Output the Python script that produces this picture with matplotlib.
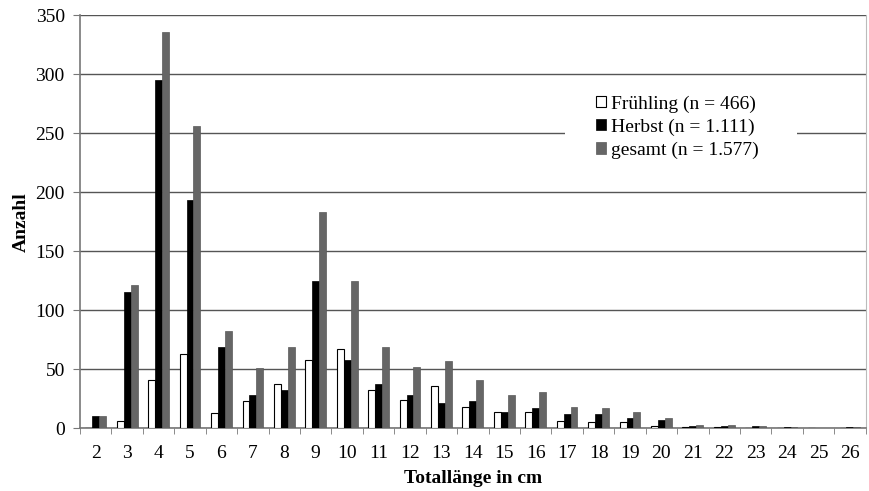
import numpy as np
import matplotlib.pyplot as plt
from matplotlib.patches import Rectangle

# Totallänge-Klassen (cm) und Anzahl je Saison
laenge = list(range(2, 27))
fruehling = [0, 6, 41, 63, 13, 23, 37, 58, 67, 32, 24, 36, 18, 14, 14, 6, 5, 5, 2, 1, 1, 0, 0, 0, 0]
herbst = [10, 115, 295, 193, 69, 28, 32, 125, 58, 37, 28, 21, 23, 14, 17, 12, 12, 9, 7, 2, 2, 2, 1, 0, 1]
gesamt = [10, 121, 336, 256, 82, 51, 69, 183, 125, 69, 52, 57, 41, 28, 31, 18, 17, 14, 9, 3, 3, 2, 1, 0, 1]

labels = ["Frühling (n = 466)", "Herbst (n = 1.111)", "gesamt (n = 1.577)"]

plt.rcParams["font.family"] = ["Liberation Serif", "DejaVu Serif"]

fig = plt.figure(figsize=(8.7, 4.91), dpi=100, facecolor="white")
ax = fig.add_axes([0.092, 0.128, 0.903, 0.841])

x = np.arange(len(laenge))
w = 0.22
ax.bar(x - w, fruehling, w, color="white", edgecolor="black", linewidth=0.8,
       label=labels[0], zorder=3)
ax.bar(x, herbst, w, color="black", edgecolor="black", linewidth=0.5,
       label=labels[1], zorder=3)
ax.bar(x + w, gesamt, w, color="#666666", edgecolor="#5a5a5a", linewidth=0.5,
       label=labels[2], zorder=3)

ax.set_xlim(-0.5, len(laenge) - 0.5)
ax.set_ylim(0, 350)
ax.set_yticks(range(0, 351, 50))
ax.yaxis.grid(True, color="#555555", linewidth=1.0, zorder=0)
ax.set_axisbelow(True)

ax.set_xticks(x)
ax.set_xticklabels([str(v) for v in laenge], fontsize=14)
ax.set_xticks(np.arange(-0.5, len(laenge), 1), minor=True)
ax.tick_params(axis="x", which="major", length=0, pad=12)
ax.tick_params(axis="x", which="minor", length=4, color="#777777", direction="out")
ax.tick_params(axis="y", labelsize=14, length=5, color="#777777", pad=6)

ax.spines["top"].set_visible(False)
ax.spines["right"].set_color("#bbbbbb")
ax.spines["left"].set_color("#777777")
ax.spines["bottom"].set_color("#777777")
ax.spines["left"].set_linewidth(1.2)
ax.spines["bottom"].set_linewidth(1.2)

ax.set_ylabel("Anzahl", fontsize=14, fontweight="bold", labelpad=4)
ax.set_xlabel("Totallänge in cm", fontsize=14, fontweight="bold", labelpad=6)

# white field behind the legend, breaking the gridline
ax.add_patch(Rectangle((0.617, 0.60), 0.295, 0.235, transform=ax.transAxes,
                       facecolor="white", edgecolor="none", zorder=2))

leg = ax.legend(loc="upper left", bbox_to_anchor=(0.657, 0.806), frameon=False,
                fontsize=14, handlelength=0.5, handleheight=0.5, handletextpad=0.25,
                labelspacing=0.3, borderpad=0, borderaxespad=0)
leg.set_zorder(5)

fig.savefig("out.png", dpi=100, facecolor="white")
